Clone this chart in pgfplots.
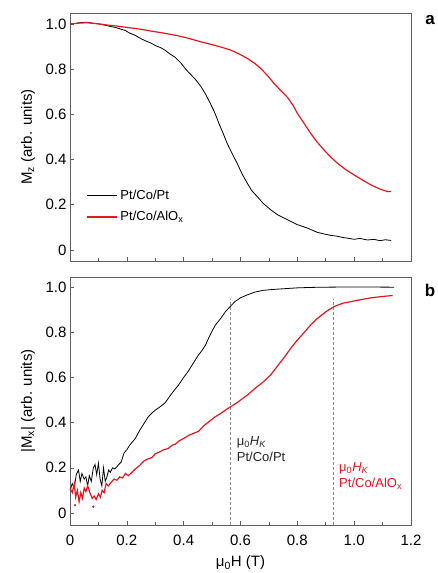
\documentclass[border=0pt]{standalone}
\usepackage{fontspec}
\setmainfont{Liberation Sans}
\usepackage{pgfplots}
\pgfplotsset{compat=1.18}
\definecolor{myred}{RGB}{232,22,30}
\definecolor{framegray}{RGB}{95,95,95}
\definecolor{dashgray}{RGB}{140,140,140}
\newcommand{\lblfont}{\fontsize{15}{18}\selectfont}
\newcommand{\smallfont}{\fontsize{13}{16}\selectfont}
\pgfplotsset{
 myaxis/.style={
  scale only axis, width=341pt, height=248pt,
  xmin=0, xmax=1.2,
  axis line style={framegray, line width=0.8pt},
  every tick/.style={framegray, line width=0.6pt},
  xtick={0,0.2,0.4,0.6,0.8,1.0,1.2}, minor x tick num=1,
  ytick={0,0.2,0.4,0.6,0.8,1.0},
  yticklabels={0,0.2,0.4,0.6,0.8,1.0},
  tick align=inside, xtick pos=bottom, ytick pos=left,
  major tick length=4pt, minor tick length=3pt,
  ticklabel style={font=\lblfont},
  xticklabel style={yshift=-6pt},
  /pgf/number format/assume math mode=true,
  every axis y label/.style={at={(axis description cs:0,0.5)}, xshift=-42pt, rotate=90, anchor=center, font=\lblfont},
  every axis x label/.style={at={(axis description cs:0.5,0)}, yshift=-38pt, anchor=center, font=\lblfont},
 }
}
\begin{document}
\begin{tikzpicture}
\useasboundingbox (0pt,0pt) rectangle (438pt,-573pt);
% ---------------- panel a ----------------
\begin{axis}[myaxis, at={(70pt,-13pt)}, anchor=north west,
  ymin=-0.049, ymax=1.049,
  xticklabels={},
  ylabel={M\textsubscript{z} (arb. units)},
]
\addplot[color=black, line width=0.8pt] coordinates {
(0.000,1.000) (0.020,1.003) (0.040,1.007) (0.060,1.008) (0.080,1.004) (0.100,1.001)
(0.120,0.996) (0.140,0.990) (0.160,0.985) (0.180,0.977) (0.194,0.972) (0.210,0.960)
(0.230,0.950) (0.250,0.935) (0.265,0.926) (0.285,0.916) (0.300,0.905) (0.320,0.895)
(0.335,0.884) (0.350,0.869) (0.370,0.853) (0.390,0.828) (0.406,0.802) (0.420,0.783)
(0.440,0.757) (0.460,0.725) (0.477,0.690) (0.490,0.658) (0.505,0.620) (0.515,0.590)
(0.524,0.560) (0.540,0.513) (0.553,0.472) (0.570,0.428) (0.588,0.384) (0.605,0.338)
(0.624,0.295) (0.640,0.262) (0.659,0.236) (0.680,0.206) (0.706,0.178) (0.730,0.156)
(0.765,0.134) (0.800,0.112) (0.835,0.097) (0.870,0.078) (0.900,0.069) (0.920,0.064)
(0.940,0.061) (0.960,0.055) (0.977,0.052) (1.000,0.047) (1.020,0.051) (1.047,0.044)
(1.070,0.047) (1.090,0.041) (1.110,0.045) (1.130,0.042)
};
\addplot[color=myred, line width=1.2pt] coordinates {
(0.000,1.000) (0.030,1.004) (0.060,1.006) (0.100,1.001) (0.130,0.996) (0.159,0.992)
(0.190,0.987) (0.220,0.982) (0.250,0.977) (0.276,0.971) (0.300,0.966) (0.330,0.960)
(0.360,0.953) (0.388,0.946) (0.420,0.936) (0.459,0.922) (0.490,0.912) (0.512,0.905)
(0.540,0.895) (0.565,0.885) (0.595,0.868) (0.624,0.848) (0.650,0.826) (0.671,0.804)
(0.695,0.772) (0.718,0.737) (0.740,0.708) (0.765,0.676) (0.785,0.640) (0.800,0.605)
(0.825,0.558) (0.847,0.516) (0.870,0.477) (0.894,0.442) (0.918,0.411) (0.941,0.384)
(0.970,0.356) (1.000,0.332) (1.030,0.309) (1.059,0.288) (1.090,0.270) (1.118,0.258)
(1.130,0.259)
};
% legend samples
\addplot[color=black, line width=0.8pt] coordinates {(0.060,0.243) (0.166,0.243)};
\addplot[color=myred, line width=1.2pt] coordinates {(0.060,0.146) (0.166,0.146)};
\node[anchor=west, font=\smallfont, inner sep=0pt] at (axis cs:0.177,0.243) {Pt/Co/Pt};
\node[anchor=west, font=\smallfont, inner sep=0pt] at (axis cs:0.177,0.146) {Pt/Co/AlO\textsubscript{x}};
\end{axis}
% ---------------- panel b ----------------
\begin{axis}[myaxis, at={(70pt,-277pt)}, anchor=north west,
  ymin=-0.053, ymax=1.044,
  xticklabels={0,0.2,0.4,0.6,0.8,1.0,1.2},
  ylabel={|M\textsubscript{x}| (arb. units)},
  xlabel={μ\textsubscript{0}H (T)},
]
\addplot[dashgray, line width=1pt, dash pattern=on 3pt off 2pt] coordinates {(0.565,-0.053) (0.565,0.945)};
\addplot[myred!70, line width=1pt, dash pattern=on 3pt off 2pt] coordinates {(0.927,-0.053) (0.927,0.945)};
\addplot[black, line width=0.8pt] coordinates {
(0.000,0.100) (0.008,0.130) (0.015,0.110) (0.022,0.170) (0.030,0.190) (0.036,0.140)
(0.042,0.175) (0.050,0.150) (0.056,0.160) (0.062,0.120) (0.068,0.165) (0.075,0.140)
(0.082,0.200) (0.088,0.215) (0.094,0.170) (0.100,0.220) (0.106,0.150) (0.112,0.120)
(0.118,0.200) (0.124,0.140) (0.130,0.160) (0.136,0.190) (0.142,0.180) (0.150,0.200)
(0.158,0.195) (0.165,0.205) (0.172,0.215) (0.180,0.225) (0.190,0.265) (0.200,0.280)
(0.210,0.300) (0.220,0.315) (0.230,0.330) (0.245,0.365) (0.260,0.395) (0.275,0.425)
(0.288,0.442) (0.300,0.455) (0.315,0.468) (0.335,0.488) (0.350,0.515) (0.365,0.540)
(0.382,0.566) (0.400,0.600) (0.415,0.625) (0.430,0.655) (0.450,0.695) (0.465,0.720)
(0.477,0.743) (0.490,0.780) (0.500,0.805) (0.512,0.832) (0.530,0.860) (0.547,0.891)
(0.565,0.915) (0.580,0.935) (0.600,0.952) (0.624,0.965) (0.650,0.977) (0.680,0.985)
(0.706,0.988) (0.750,0.992) (0.800,0.996) (0.850,0.998) (0.900,0.999) (1.000,1.000)
(1.141,0.999)
};
\addplot[myred, line width=1.2pt] coordinates {
(0.000,0.110) (0.008,0.090) (0.015,0.130) (0.020,0.070) (0.026,0.100) (0.032,0.050)
(0.038,0.090) (0.044,0.065) (0.050,0.110) (0.056,0.095) (0.062,0.120) (0.070,0.090)
(0.078,0.065) (0.085,0.075) (0.092,0.060) (0.100,0.085) (0.107,0.070) (0.113,0.100)
(0.120,0.090) (0.127,0.130) (0.135,0.120) (0.147,0.139) (0.155,0.150) (0.165,0.145)
(0.175,0.160) (0.185,0.155) (0.195,0.175) (0.205,0.165) (0.218,0.180) (0.230,0.195)
(0.245,0.210) (0.260,0.230) (0.275,0.240) (0.288,0.245) (0.300,0.262) (0.315,0.270)
(0.330,0.280) (0.345,0.285) (0.360,0.300) (0.371,0.305) (0.385,0.320) (0.400,0.330)
(0.420,0.345) (0.440,0.355) (0.453,0.362) (0.470,0.385) (0.490,0.405) (0.510,0.425)
(0.530,0.440) (0.550,0.458) (0.565,0.470) (0.590,0.490) (0.624,0.522) (0.650,0.550)
(0.680,0.580) (0.706,0.611) (0.730,0.650) (0.755,0.690) (0.777,0.729) (0.800,0.765)
(0.825,0.800) (0.847,0.832) (0.870,0.860) (0.900,0.890) (0.929,0.913) (0.960,0.928)
(1.000,0.938) (1.024,0.944) (1.060,0.952) (1.100,0.958) (1.135,0.962)
};
\addplot[myred, only marks, mark=*, mark size=0.9pt] coordinates {(0.018,0.035) (0.082,0.028)};
\node[anchor=west, align=left, font=\smallfont, text=black!85] at (axis cs:0.575,0.285) {μ\textsubscript{0}\textit{H}\textsubscript{\textit{K}}\\Pt/Co/Pt};
\node[anchor=west, align=left, font=\smallfont, text=myred] at (axis cs:0.935,0.165) {μ\textsubscript{0}\textit{H}\textsubscript{\textit{K}}\\Pt/Co/AlO\textsubscript{x}};
\end{axis}
\node[font=\bfseries\fontsize{17}{20}\selectfont] at (430pt,-20pt) {a};
\node[font=\bfseries\fontsize{17}{20}\selectfont] at (430pt,-290pt) {b};
\end{tikzpicture}
\end{document}
